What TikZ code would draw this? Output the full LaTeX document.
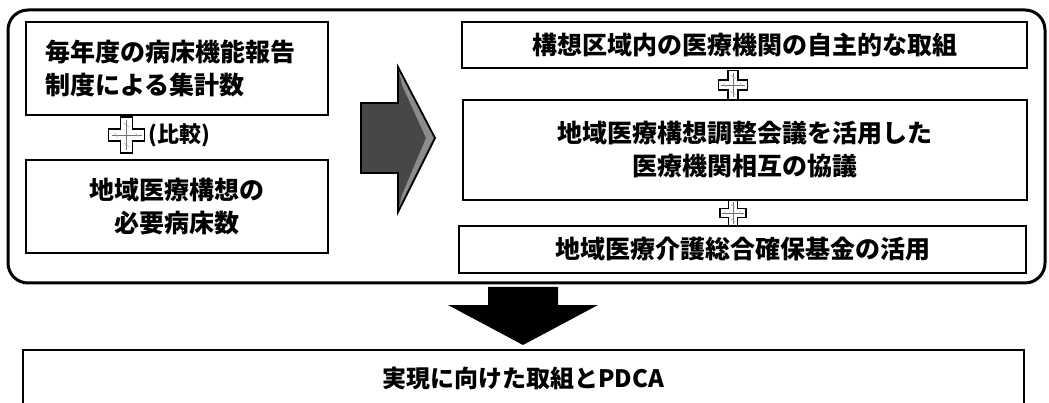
\documentclass[tikz,border=0pt]{standalone}
\usepackage{fontspec}
\setmainfont{Noto Sans CJK JP}
\begin{document}
\begin{tikzpicture}[x=1pt,y=-1pt,
  box/.style={draw=black, line width=2pt, fill=white, inner sep=0pt, font=\fontsize{25}{33}\selectfont\bfseries},
  txt/.style={inner sep=0pt, font=\fontsize{25}{33}\selectfont\bfseries},
  plusmark/.pic={
    \draw[fill=white, line width=1.6pt] (-6,-18) -- (6,-18) -- (6,-6) -- (18,-6) -- (18,6) -- (6,6) -- (6,18) -- (-6,18) -- (-6,6) -- (-18,6) -- (-18,-6) -- (-6,-6) -- cycle;
    \draw[black!55, line width=0.8pt] (0,-15) -- (0,15) (-15,0) -- (15,0);
    \draw[black!35, line width=0.5pt] (-3,-12) -- (3,-8) (-3,8) -- (3,12) (-12,-2) -- (-9,2) (9,-2) -- (12,2);
  }]
\clip (0,0) rectangle (1049,403);
\fill[white] (0,0) rectangle (1049,403);

% outer frame
\draw[line width=3pt, rounded corners=20pt] (8,10) rectangle (1045,283);

% left boxes
\node[box, minimum width=302pt, minimum height=93pt] (l1) at (177,68.5) {};
\node[txt, align=left, anchor=west] (l1t) at (45,68.5) {毎年度の病床機能報告\\制度による集計数};
\node[box, minimum width=302pt, minimum height=93pt, align=center] (l2) at (177,206.5) {地域医療構想の\\必要病床数};

\pic at (126.5,135) {plusmark};
\node[inner sep=0pt, font=\fontsize{22}{26}\selectfont\bfseries, anchor=west] (cmp) at (148,135) {(比較)};

% big right arrow
\fill[black!72] (361,103) -- (398,103) -- (398,67) -- (435,138) -- (398,212) -- (398,173) -- (361,173) -- cycle;
\fill[black!45] (398,67) -- (435,138) -- (398,212) -- (402,195) -- (426,138) -- (402,85) -- cycle;
\draw[line width=1.8pt, line join=miter] (361,103) -- (398,103) -- (398,67) -- (435,138) -- (398,212) -- (398,173) -- (361,173) -- cycle;

% right boxes
\node[box, minimum width=565pt, minimum height=46pt] (r1) at (744.5,45) {構想区域内の医療機関の自主的な取組};
\node[box, minimum width=564pt, minimum height=100pt, align=center] (r2) at (745,150) {地域医療構想調整会議を活用した\\医療機関相互の協議};
\node[box, minimum width=567pt, minimum height=47pt] (r3) at (742.5,249.5) {地域医療介護総合確保基金の活用};

\pic[scale=0.8] at (733,85) {plusmark};
\pic[scale=0.72] at (733,213) {plusmark};

% down arrow
\fill[black] (488,287) -- (558,287) -- (558,305) -- (598,305) -- (523,345) -- (448,305) -- (488,305) -- cycle;

% bottom box
\node[draw=black, line width=2.5pt, fill=white, minimum width=1001pt, minimum height=80pt, inner sep=0pt] (bot) at (523.5,390) {};
\node[txt, font=\fontsize{24}{28}\selectfont\bfseries] (bott) at (523,378) {実現に向けた取組とPDCA};
\end{tikzpicture}
\end{document}
